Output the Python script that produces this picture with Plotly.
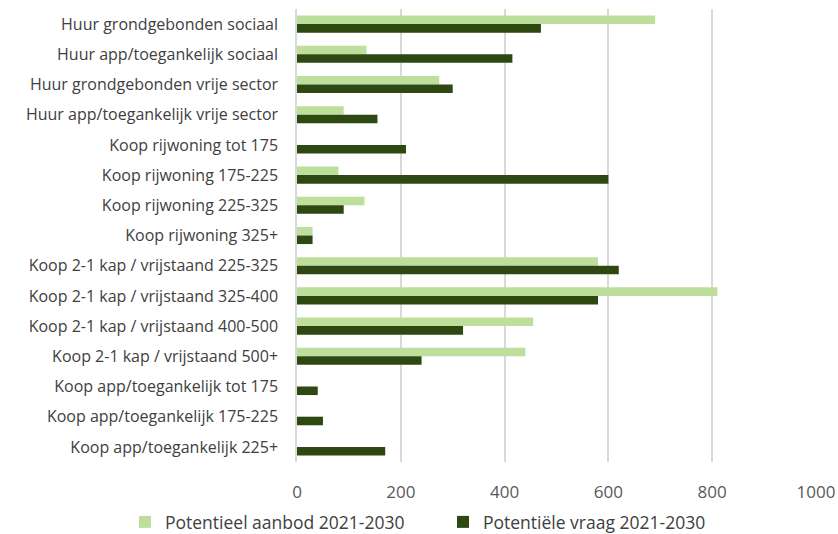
import plotly.graph_objects as go

categories = [
    "Huur grondgebonden sociaal",
    "Huur app/toegankelijk sociaal",
    "Huur grondgebonden vrije sector",
    "Huur app/toegankelijk vrije sector",
    "Koop rijwoning tot 175",
    "Koop rijwoning 175-225",
    "Koop rijwoning 225-325",
    "Koop rijwoning 325+",
    "Koop 2-1 kap / vrijstaand 225-325",
    "Koop 2-1 kap / vrijstaand 325-400",
    "Koop 2-1 kap / vrijstaand 400-500",
    "Koop 2-1 kap / vrijstaand 500+",
    "Koop app/toegankelijk tot 175",
    "Koop app/toegankelijk 175-225",
    "Koop app/toegankelijk 225+",
]
aanbod = [690, 134, 274, 90, 0, 80, 130, 30, 580, 810, 455, 440, 0, 0, 0]
vraag = [470, 415, 300, 155, 210, 600, 90, 30, 620, 580, 320, 240, 40, 50, 170]
x_ticks = [0, 200, 400, 600, 800, 1000]

font_family = "Open Sans, Lato, sans-serif"

fig = go.Figure()
fig.add_trace(go.Bar(
    y=categories, x=aanbod, orientation="h",
    name="Potentieel aanbod 2021-2030",
    marker=dict(color="#BDDF9B", line=dict(width=0)),
    legend="legend",
))
fig.add_trace(go.Bar(
    y=categories, x=vraag, orientation="h",
    name="Potentiële vraag 2021-2030",
    marker=dict(color="#2D4810", line=dict(width=0)),
    legend="legend2",
))

legend_style = dict(
    orientation="h", xref="container", yref="container",
    xanchor="left", y=1 - 522 / 534, yanchor="middle",
    font=dict(size=17.5, color="#404040"),
    itemwidth=30, bgcolor="rgba(0,0,0,0)",
)

fig.update_layout(
    width=838, height=534,
    margin=dict(l=297, r=22, t=9, b=72, autoexpand=False),
    paper_bgcolor="white", plot_bgcolor="white",
    barmode="group", bargap=0.433, bargroupgap=0,
    font=dict(family=font_family, color="#404040"),
    legend=dict(x=125 / 838, **legend_style),
    legend2=dict(x=443 / 838, **legend_style),
    showlegend=True,
)
fig.update_xaxes(
    range=[0, 1000], tickvals=x_ticks,
    showgrid=True, gridcolor="#D9D9D9", gridwidth=1.5,
    zeroline=False, showline=False,
    tickfont=dict(size=17, color="#595959"),
    ticks="", ticklen=0, ticklabelstandoff=18,
)
fig.update_yaxes(
    autorange="reversed", showgrid=False,
    showline=True, linecolor="#D9D9D9", linewidth=1.5,
    tickfont=dict(size=16, color="#404040"),
    ticks="", ticklabelstandoff=14,
)

fig.write_html("out.html")
